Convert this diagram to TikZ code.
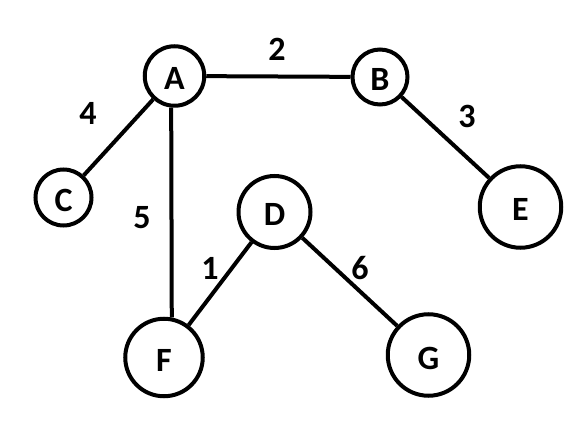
\documentclass[tikz,border=0pt]{standalone}
\usepackage{fontspec}
\setmainfont{Carlito}
\begin{document}
\begin{tikzpicture}[x=1pt,y=-1pt,line width=4pt,
  vertex/.style={circle,draw,inner sep=0pt,text height=28pt,text depth=0pt,
    font=\bfseries\fontsize{34}{34}\selectfont},
  weight/.style={inner sep=0pt,font=\bfseries\fontsize{34}{34}\selectfont}]
\useasboundingbox (0,0) rectangle (581,438);

\node[vertex,minimum size=59.5pt] (A) at (174.5,76) {A};
\node[vertex,minimum size=55pt] (B) at (380,77) {B};
\node[vertex,minimum size=56pt] (C) at (63.5,197.5) {C};
\node[vertex,minimum size=72pt] (D) at (274.5,212) {D};
\node[vertex,minimum size=81.5pt] (E) at (520.5,207) {E};
\node[vertex,minimum size=77.5pt] (F) at (164,357.5) {F};
\node[vertex,minimum size=81.5pt] (G) at (428.5,355) {G};

\draw (A) -- (B);
\draw (A) -- (C);
\draw (A.264) -- (F.79);
\draw (B) -- (E);
\draw (D) -- (F);
\draw (D) -- (G);

\node[weight] (wAB) at (277,49) {2};
\node[weight] (wAC) at (88,113) {4};
\node[weight] (wBE) at (467,116) {3};
\node[weight] (wAF) at (142,218) {5};
\node[weight] (wDF) at (210,268) {1};
\node[weight] (wDG) at (360,268) {6};
\end{tikzpicture}
\end{document}
